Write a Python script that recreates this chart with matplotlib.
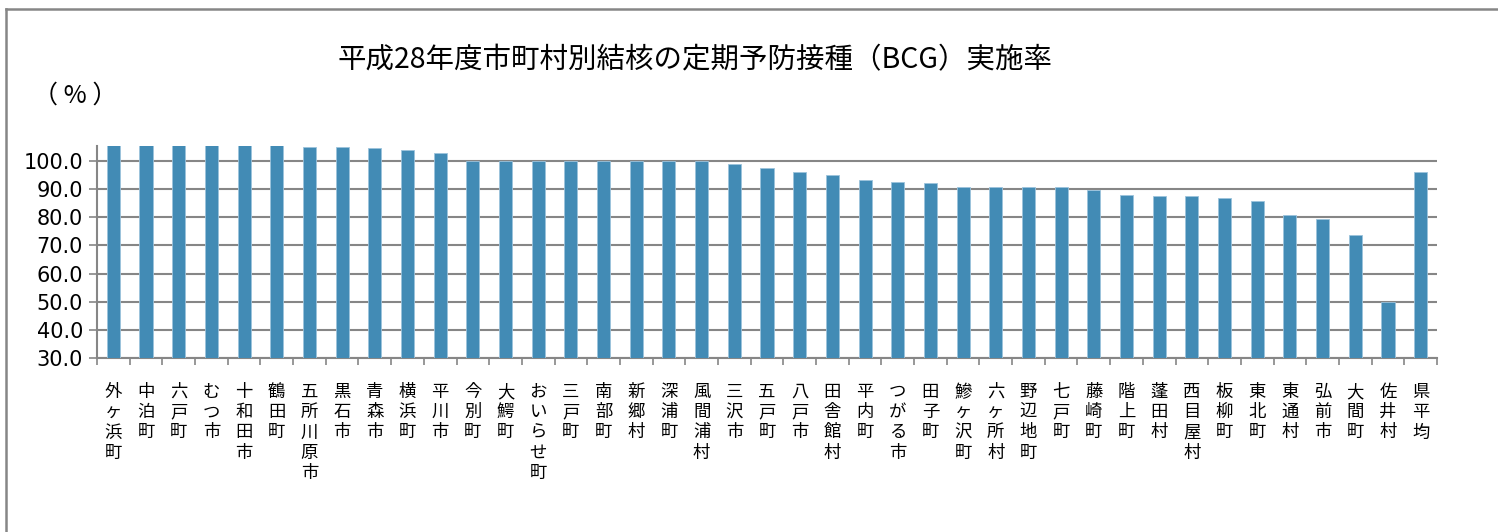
#-*- coding: utf-8 -*-
# 平成28年度 市町村別 BCG 実施率
import numpy as np
import matplotlib
matplotlib.use('Agg')
import matplotlib.pyplot as plt
from matplotlib.lines import Line2D

plt.rcParams['font.family'] = ['Noto Sans CJK JP', 'DejaVu Sans']

towns = ['外ヶ浜町', '中泊町', '六戸町', 'むつ市', '十和田市', '鶴田町', '五所川原市',
         '黒石市', '青森市', '横浜町', '平川市', '今別町', '大鰐町', 'おいらせ町',
         '三戸町', '南部町', '新郷村', '深浦町', '風間浦村', '三沢市', '五戸町',
         '八戸市', '田舎館村', '平内町', 'つがる市', '田子町', '鰺ヶ沢町', '六ヶ所村',
         '野辺地町', '七戸町', '藤崎町', '階上町', '蓬田村', '西目屋村', '板柳町',
         '東北町', '東通村', '弘前市', '大間町', '佐井村', '県平均']
rates = [105.5, 105.5, 105.5, 105.5, 105.5, 105.5, 105.1, 104.8, 104.5, 103.8,
         102.7, 100.0, 100.0, 100.0, 100.0, 100.0, 100.0, 100.0, 100.0, 98.9,
         97.5, 96.0, 94.9, 93.2, 92.5, 92.2, 90.8, 90.8, 90.6, 90.6,
         89.8, 87.9, 87.4, 87.4, 86.9, 85.8, 80.7, 79.4, 73.6, 50.0, 96.2]
yticks = [30, 40, 50, 60, 70, 80, 90, 100]

W, H = 1498, 532
fig = plt.figure(figsize=(W / 100, H / 100), dpi=100)
ax = fig.add_axes([97 / W, 1 - 358 / H, (1437 - 97) / W, (358 - 146) / H])

grey = '#868686'
x = np.arange(len(towns))
ax.bar(x, rates, 0.4, color='#428bb5', edgecolor='#9cc3dc', linewidth=0.6, zorder=3)

ax.set_xlim(-0.5, len(towns) - 0.5)
ax.set_ylim(30, 105.3)
ax.set_yticks(yticks)
ax.set_yticklabels(['%.1f' % v for v in yticks], fontsize=15, family='DejaVu Sans')
ax.yaxis.grid(True, color=grey, linewidth=1.5, zorder=0)
ax.tick_params(axis='y', length=6, width=1.2, color=grey, pad=4)

ax.set_xticks(x)
ax.set_xticklabels(['\n'.join(t) for t in towns], fontsize=12.5, linespacing=1.16, va='top')
ax.set_xticks(np.arange(len(towns) + 1) - 0.5, minor=True)
ax.tick_params(axis='x', which='major', length=0, pad=18)
ax.tick_params(axis='x', which='minor', length=5, width=1.2, color=grey)

for s in ['top', 'right']:
    ax.spines[s].set_visible(False)
for s in ['left', 'bottom']:
    ax.spines[s].set_color(grey)
    ax.spines[s].set_linewidth(1.5)

fig.text(695 / W, 1 - 60 / H, '平成28年度市町村別結核の定期予防接種（BCG）実施率',
         ha='center', va='center', fontsize=20.5)
fig.text(75 / W, 1 - 96 / H, '（ % ）', ha='center', va='center', fontsize=18)

# chart frame
fig.add_artist(Line2D([6 / W, 6 / W], [0, 1 - 9 / H], transform=fig.transFigure,
                      color=grey, linewidth=1.8))
fig.add_artist(Line2D([6 / W, 1], [1 - 9 / H, 1 - 9 / H], transform=fig.transFigure,
                      color=grey, linewidth=1.8))

fig.savefig('out.png', dpi=100)
